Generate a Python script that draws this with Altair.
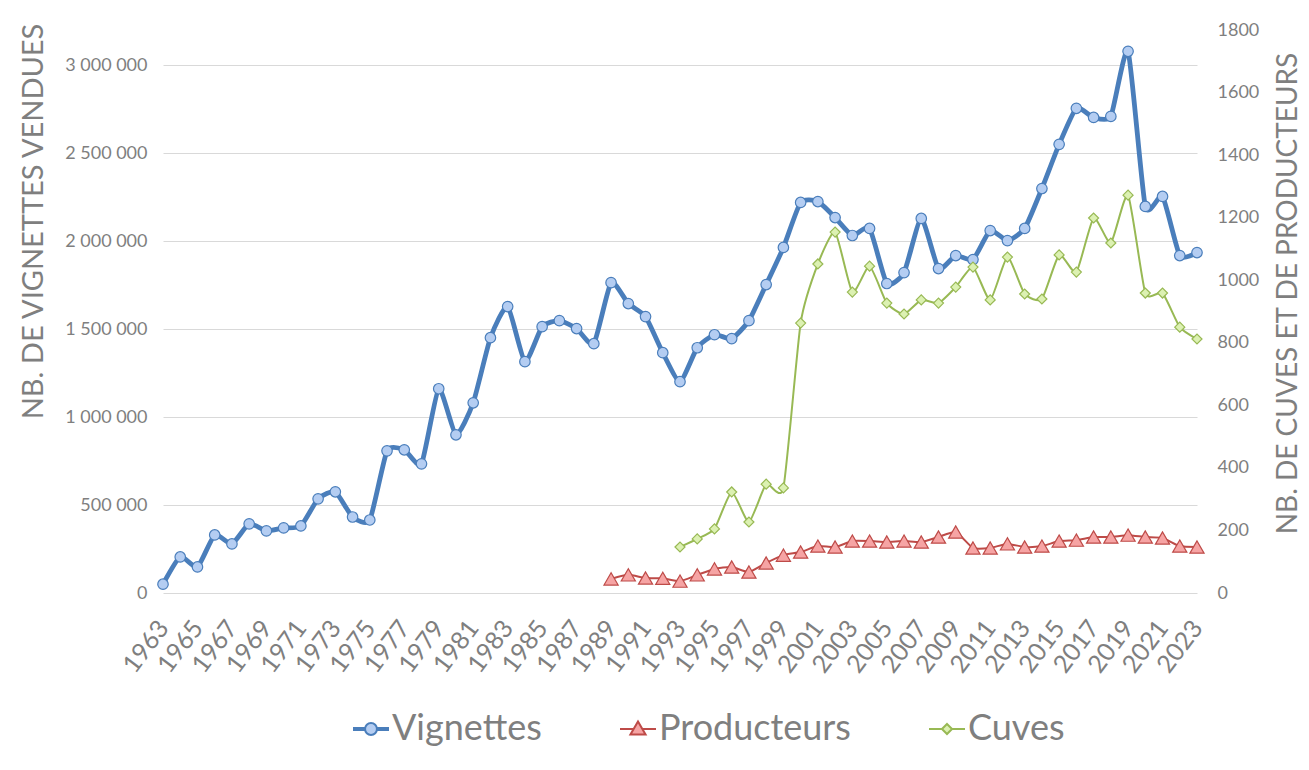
import altair as alt
import pandas as pd

# ---------------- data ----------------
years = list(range(1963, 2024))
vignettes = [50000, 205000, 148000, 330000, 279000, 393000, 353000, 370000, 381000, 535000,
             575000, 432000, 415000, 808000, 814000, 734000, 1161000, 899000, 1081000, 1451000,
             1628000, 1315000, 1514000, 1548000, 1503000, 1417000, 1764000, 1645000, 1571000, 1366000,
             1201000, 1394000, 1468000, 1446000, 1548000, 1753000, 1964000, 2220000, 2225000, 2134000,
             2032000, 2072000, 1759000, 1821000, 2129000, 1844000, 1918000, 1895000, 2060000, 2003000,
             2072000, 2299000, 2550000, 2755000, 2703000, 2709000, 3079000, 2197000, 2254000, 1918000,
             1935000]

prod_years = list(range(1989, 2024))
producteurs = [45, 58, 48, 47, 38, 58, 77, 83, 67, 96,
               121, 131, 150, 147, 166, 166, 163, 166, 163, 179,
               195, 144, 144, 157, 147, 150, 166, 169, 179, 179,
               185, 179, 176, 150, 147]

cuves_years = list(range(1993, 2024))
cuves = [147, 173, 205, 323, 227, 348, 336, 863, 1052, 1154,
         962, 1045, 927, 892, 937, 927, 978, 1042, 937, 1074,
         956, 940, 1081, 1026, 1199, 1119, 1272, 959, 959, 850,
         812]

series_names = ["Vignettes", "Producteurs", "Cuves"]
left_ticks = [0, 500000, 1000000, 1500000, 2000000, 2500000, 3000000]
right_ticks = [0, 200, 400, 600, 800, 1000, 1200, 1400, 1600, 1800]
year_ticks = list(range(1963, 2024, 2))

# ---------------- styles ----------------
FONT = "Lato"
GREY = "#7f7f7f"
line_colors = ["#4a7ebb", "#be4b48", "#98b954"]
fill_colors = ["#b4cdf2", "#f6a4a4", "#dcf1b2"]
SMOOTH = dict(interpolate="cardinal", tension=0.45)

legend_paths = [
    "M-1,-0.06H-0.33M-1,0.06H-0.33M0.33,-0.06H1M0.33,0.06H1"
    "M0.33,0A0.33,0.33,0,1,1,-0.33,0A0.33,0.33,0,1,1,0.33,0Z",
    "M-1,0H-0.23M0.23,0H1M0,-0.42L0.42,0.3L-0.42,0.3Z",
    "M-1,0H-0.28M0.28,0H1M0,-0.28L0.28,0L0,0.28L-0.28,0Z",
]

df_v = pd.DataFrame({"year": years, "value": vignettes})
df_p = pd.DataFrame({"year": prod_years, "value": producteurs})
df_c = pd.DataFrame({"year": cuves_years, "value": cuves})
df_leg = pd.DataFrame({"series": series_names})

x_enc = alt.X(
    "year:Q",
    scale=alt.Scale(domain=[1963, 2023], nice=False, zero=False),
    axis=alt.Axis(values=year_ticks, format="d", labelAngle=-53, labelAlign="right",
                  labelBaseline="middle", labelFontSize=25, labelPadding=30, labelFlush=False,
                  labelOverlap=False, ticks=False, domain=False, grid=False, title=None),
)

y_left = alt.Y(
    "value:Q",
    scale=alt.Scale(domain=[0, 3200000], nice=False, zero=True),
    axis=alt.Axis(values=left_ticks,
                  labelExpr="replace(format(datum.value, ','), regexp(',', 'g'), ' ')",
                  labelFontSize=18, labelPadding=16, ticks=False, domain=False,
                  grid=True, gridColor="#d9d9d9", gridWidth=1,
                  title="NB. DE VIGNETTES VENDUES", titleFontSize=29, titleAngle=270,
                  titleAlign="center", titleBaseline="alphabetic", titleX=-121, titleY=191),
)

right_axis = alt.Axis(orient="right", values=right_ticks, format="d",
                      labelFontSize=18, labelPadding=20, ticks=False, domain=False, grid=False,
                      title="NB. DE CUVES ET DE PRODUCTEURS", titleFontSize=28, titleAngle=270,
                      titleAlign="center", titleBaseline="alphabetic", titleX=99, titleY=263)
y_right = alt.Y("value:Q", scale=alt.Scale(domain=[0, 1800], nice=False, zero=True), axis=right_axis)

vig_line = alt.Chart(df_v).mark_line(color=line_colors[0], strokeWidth=4.8, **SMOOTH).encode(x=x_enc, y=y_left)
vig_pts = alt.Chart(df_v).mark_point(shape="circle", filled=True, fill=fill_colors[0],
                                     stroke=line_colors[0], strokeWidth=1.2, size=110,
                                     opacity=1).encode(x=x_enc, y=y_left)
left_layer = alt.layer(vig_line, vig_pts)

prod_line = alt.Chart(df_p).mark_line(color=line_colors[1], strokeWidth=2, **SMOOTH).encode(x=x_enc, y=y_right)
prod_pts = alt.Chart(df_p).mark_point(shape="triangle-up", filled=True, fill=fill_colors[1],
                                      stroke=line_colors[1], strokeWidth=1.2, size=200,
                                      opacity=1).encode(x=x_enc, y=y_right)
cuv_line = alt.Chart(df_c).mark_line(color=line_colors[2], strokeWidth=2, **SMOOTH).encode(x=x_enc, y=y_right)
cuv_pts = alt.Chart(df_c).mark_point(shape="diamond", filled=True, fill=fill_colors[2],
                                     stroke=line_colors[2], strokeWidth=1.2, size=100,
                                     opacity=1).encode(x=x_enc, y=y_right)
right_layer = alt.layer(prod_line, prod_pts, cuv_line, cuv_pts)

leg = alt.Legend(title=None, orient="none", legendX=189, legendY=680, direction="horizontal",
                 symbolSize=1296, symbolStrokeWidth=2, symbolOpacity=1,
                 labelFontSize=36, labelColor=GREY, labelFont=FONT, labelOffset=2,
                 columnPadding=74, labelLimit=0)
legend_layer = alt.Chart(df_leg).transform_filter("false").mark_point(
    filled=True, opacity=1, strokeWidth=2
).encode(
    shape=alt.Shape("series:N", scale=alt.Scale(domain=series_names, range=legend_paths), legend=leg),
    fill=alt.Fill("series:N", scale=alt.Scale(domain=series_names, range=fill_colors), legend=leg),
    stroke=alt.Stroke("series:N", scale=alt.Scale(domain=series_names, range=line_colors), legend=leg),
)

chart = alt.layer(left_layer, right_layer, legend_layer).resolve_scale(
    y="independent"
).properties(
    width=1034, height=563,
    autosize=alt.AutoSizeParams(type="none"),
    padding={"left": 155, "top": 22, "right": 104, "bottom": 160},
    background="white",
).configure(font=FONT).configure_view(stroke=None).configure_axis(
    labelFont=FONT, titleFont=FONT, labelColor=GREY, titleColor=GREY, titleFontWeight="normal"
)

chart.save("out.html", embed_options={"renderer": "svg", "actions": False})
